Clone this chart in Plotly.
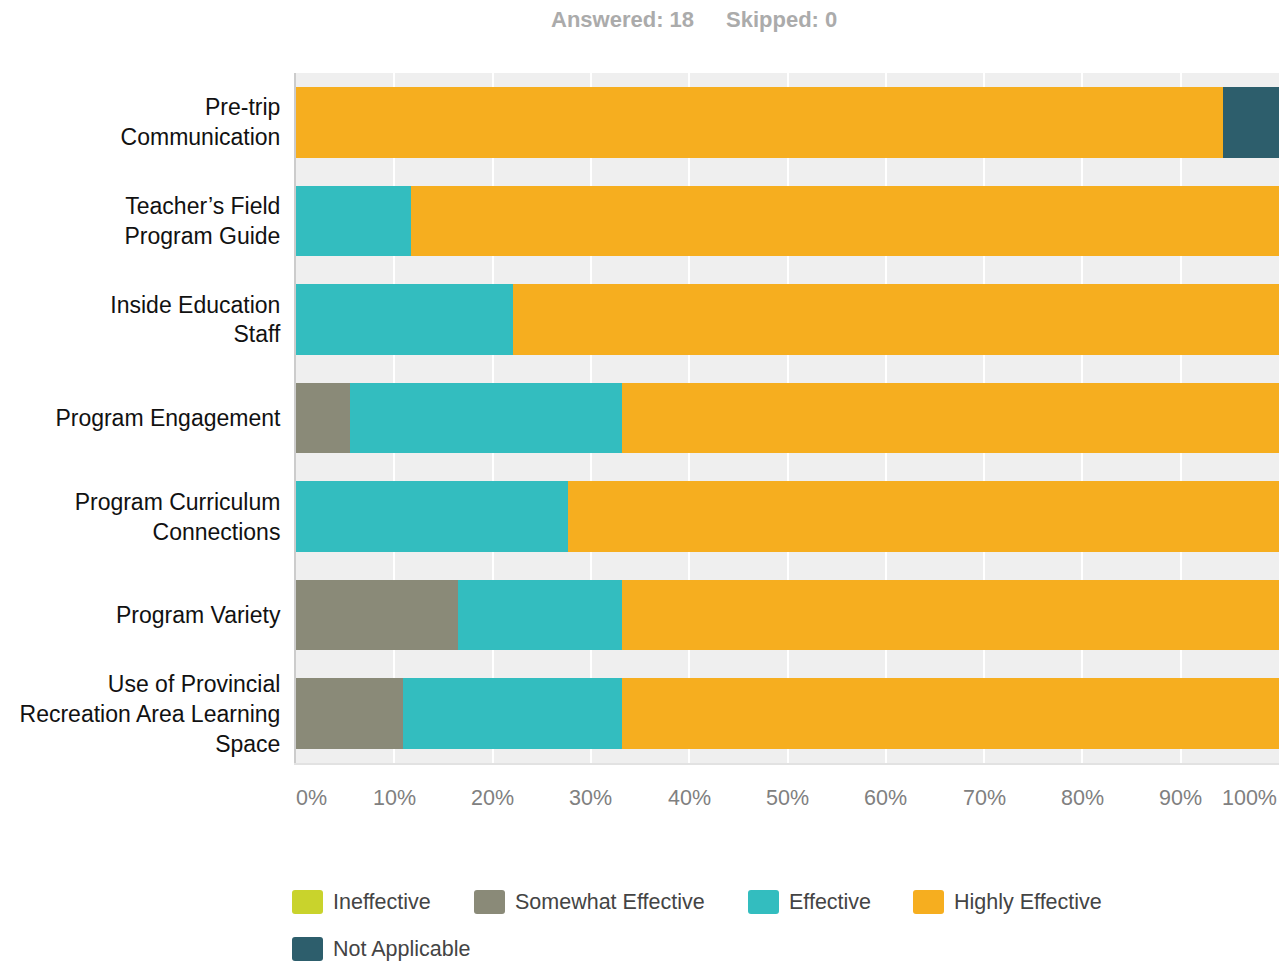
import plotly.graph_objects as go

# ---------------- data ----------------
categories = [
    "Pre-trip<br>Communication",
    "Teacher’s Field<br>Program Guide",
    "Inside Education<br>Staff",
    "Program Engagement",
    "Program Curriculum<br>Connections",
    "Program Variety",
    "Use of Provincial<br>Recreation Area Learning<br>Space",
]
series_names = ["Ineffective", "Somewhat Effective", "Effective", "Highly Effective", "Not Applicable"]
ineffective = [0, 0, 0, 0, 0, 0, 0]
somewhat_effective = [0, 0, 0, 5.5, 0, 16.5, 10.9]
effective = [0, 11.7, 22.1, 27.7, 27.7, 16.7, 22.3]
highly_effective = [94.3, 88.3, 77.9, 66.8, 72.3, 66.8, 66.8]
not_applicable = [5.7, 0, 0, 0, 0, 0, 0]
x_tick_values = [0, 10, 20, 30, 40, 50, 60, 70, 80, 90, 100]
x_tick_labels = ["0%", "10%", "20%", "30%", "40%", "50%", "60%", "70%", "80%", "90%", "100%"]
header_texts = ["Answered: 18", "Skipped: 0"]

# ---------------- style ----------------
colors = ["#c9d32c", "#8a8a78", "#33bdbf", "#f6ae1f", "#2d5e6c"]
FONT = "Liberation Sans, Arial, Helvetica"
OFF = 8                      # page body margin
W, H = 1287 - OFF, 962 - OFF
PLOT_L, PLOT_R, PLOT_T, PLOT_B = 296, 1279, 73, 763   # absolute page pixels
L, T = PLOT_L - OFF, PLOT_T - OFF
R = W - (PLOT_R - OFF)
B = H - (PLOT_B - OFF)
PW, PH = PLOT_R - PLOT_L, PLOT_B - PLOT_T

def px(x):
    return (x - PLOT_L) / PW

def py(y):
    return (PLOT_B - y) / PH

fig = go.Figure()
all_series = [ineffective, somewhat_effective, effective, highly_effective, not_applicable]
for name, vals, col in zip(series_names, all_series, colors):
    fig.add_trace(go.Bar(
        y=categories, x=vals, name=name, orientation="h",
        marker=dict(color=col, line=dict(width=0)),
        showlegend=False, hoverinfo="x+name",
    ))

# manual legend (rounded swatches + labels)
legend_pos = [(292, 902), (474, 902), (748, 902), (913, 902), (292, 949)]
shapes = []
annotations = []
sw, sh, r = 31, 24, 3
for (lx, ly), name, col in zip(legend_pos, series_names, colors):
    x0, x1 = lx, lx + sw
    y0, y1 = ly - sh / 2, ly + sh / 2
    path = (
        f"M {px(x0 + r)},{py(y0)} L {px(x1 - r)},{py(y0)} "
        f"Q {px(x1)},{py(y0)} {px(x1)},{py(y0 + r)} "
        f"L {px(x1)},{py(y1 - r)} Q {px(x1)},{py(y1)} {px(x1 - r)},{py(y1)} "
        f"L {px(x0 + r)},{py(y1)} Q {px(x0)},{py(y1)} {px(x0)},{py(y1 - r)} "
        f"L {px(x0)},{py(y0 + r)} Q {px(x0)},{py(y0)} {px(x0 + r)},{py(y0)} Z"
    )
    shapes.append(dict(type="path", xref="paper", yref="paper", path=path,
                       fillcolor=col, line=dict(width=0), layer="above"))
    annotations.append(dict(x=px(lx + sw + 8), y=py(ly), xref="paper", yref="paper",
                            text=name, showarrow=False, xanchor="left", yanchor="middle",
                            font=dict(family=FONT, size=21.5, color="#444444")))

# x tick labels (first one left-aligned, last one right-aligned as in the survey chart)
for v, lab in zip(x_tick_values, x_tick_labels):
    anchor = "left" if v == x_tick_values[0] else ("right" if v == x_tick_values[-1] else "center")
    annotations.append(dict(x=v, y=py(798), xref="x", yref="paper", text=lab,
                            showarrow=False, xanchor=anchor, yanchor="middle",
                            xshift=-2 if anchor == "left" else 0,
                            font=dict(family=FONT, size=21.5, color="#808080")))

# header
for txt, hx in zip(header_texts, [549, 724]):
    annotations.append(dict(x=px(hx), y=py(20), xref="paper", yref="paper",
                            text=f"<b>{txt}</b>", showarrow=False, xanchor="left", yanchor="middle",
                            font=dict(family=FONT, size=22, color="#ababab")))

fig.update_layout(
    width=W, height=H,
    margin=dict(l=L, r=R, t=T, b=B, pad=0, autoexpand=False),
    barmode="stack", bargap=0.285,
    paper_bgcolor="white", plot_bgcolor="#efefef",
    shapes=shapes, annotations=annotations,
    showlegend=False,
    xaxis=dict(
        range=[0, 100], tickvals=x_tick_values, showticklabels=False,
        showgrid=True, gridcolor="white", gridwidth=2, zeroline=False,
        showline=True, linecolor="#e2e2e2", linewidth=2,
        fixedrange=True, automargin=False,
    ),
    yaxis=dict(
        autorange="reversed", showgrid=False, zeroline=False,
        showline=True, linecolor="#cccccc", linewidth=2,
        ticks="outside", ticklen=9, tickcolor="rgba(0,0,0,0)",
        tickfont=dict(family=FONT, size=23, color="#111111"),
        fixedrange=True, automargin=False,
    ),
)

fig.write_html("out.html")
